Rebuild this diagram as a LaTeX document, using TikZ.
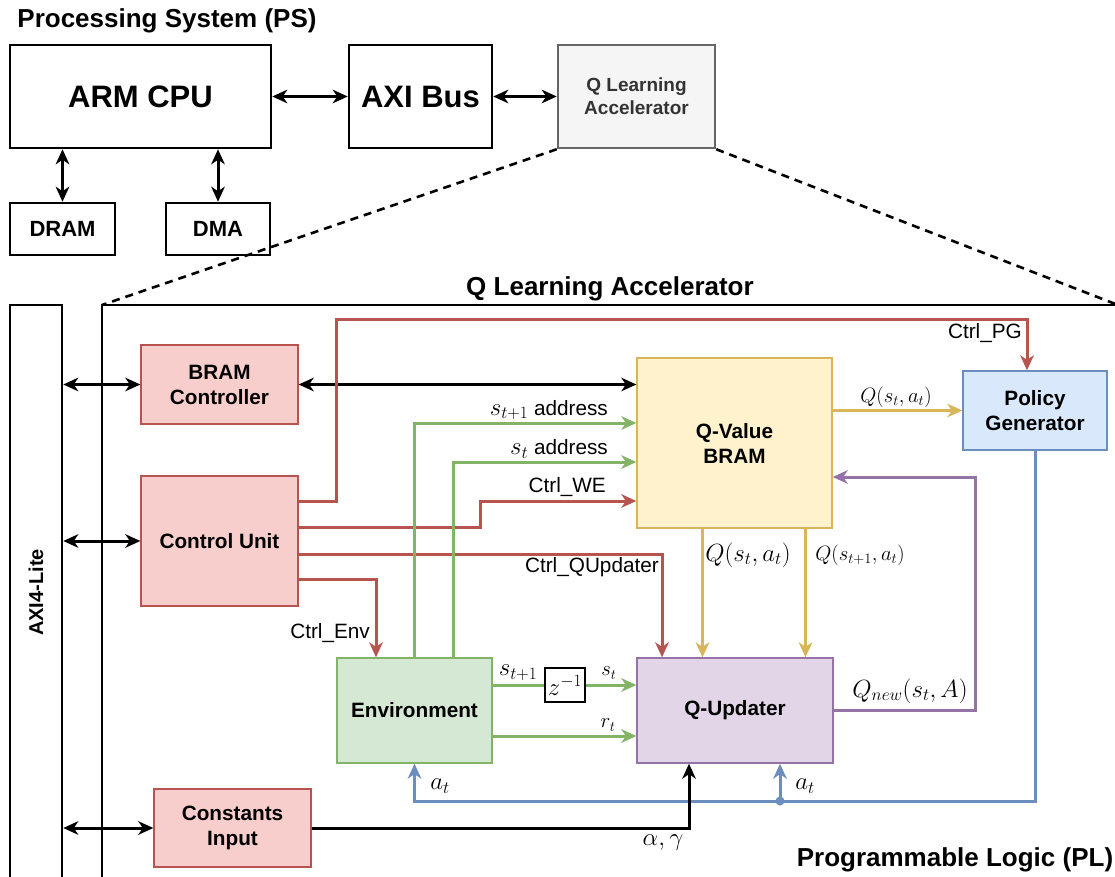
\documentclass[tikz,border=0pt]{standalone}
\usepackage{fontspec}
\setmainfont{Liberation Sans}
\usetikzlibrary{arrows.meta,calc}

\definecolor{redF}{HTML}{F8CECC}\definecolor{redS}{HTML}{B85450}
\definecolor{yelF}{HTML}{FFF2CC}\definecolor{yelS}{HTML}{D6B656}
\definecolor{bluF}{HTML}{DAE8FC}\definecolor{bluS}{HTML}{6C8EBF}
\definecolor{grnF}{HTML}{D5E8D4}\definecolor{grnS}{HTML}{82B366}
\definecolor{purF}{HTML}{E1D5E7}\definecolor{purS}{HTML}{9673A6}
\definecolor{gryF}{HTML}{F5F5F5}\definecolor{gryS}{HTML}{666666}
\definecolor{gryT}{HTML}{333333}

\newcommand{\titlefont}{\fontsize{26}{31}\selectfont\bfseries}
\newcommand{\bigfont}{\fontsize{31}{37}\selectfont\bfseries}
\newcommand{\boxfont}{\fontsize{20.74}{25}\selectfont\bfseries}
\newcommand{\lblfont}{\fontsize{20.74}{25}\selectfont}
\newcommand{\msize}[1]{\fontsize{#1}{#1}\selectfont}

\tikzset{
  tip/.tip={Stealth[length=15pt,width=13.5pt,inset=4.5pt]},
  blk/.style={draw=black, line width=2.5pt, fill=white, inner sep=0pt, align=center},
  cbox/.style 2 args={draw=#2, fill=#1, line width=1.3pt, inner sep=0pt,
    align=center, font=\boxfont},
  conn/.style={line width=3pt, -tip},
  bi/.style={line width=3pt, tip-tip},
  lbl/.style={font=\lblfont, inner sep=0pt},
  mlbl/.style={font=\msize{#1}, inner sep=0pt},
  zoomline/.style={line width=2.6pt, dash pattern=on 8pt off 6pt},
}

\begin{document}
\begin{tikzpicture}[x=1pt,y=-1pt]
\clip (0,0) rectangle (1115,877);

% ---------------- Processing System ----------------
\node[font=\titlefont, inner sep=0pt] (pstitle) at (167,21) {Processing System (PS)};
\node[blk, minimum width=261pt, minimum height=103pt, font=\bigfont] (arm) at (140.5,96.5) {ARM CPU};
\node[blk, minimum width=143pt, minimum height=103pt, font=\bigfont] (axib) at (420.5,96.5) {AXI Bus};
\node[draw=gryS, fill=gryF, line width=2.5pt, inner sep=0pt, align=center,
      minimum width=157pt, minimum height=103pt, text=gryT,
      font=\fontsize{19}{23}\selectfont\bfseries] (qacc) at (636.5,96.5) {Q Learning\\Accelerator};
\node[blk, minimum width=105pt, minimum height=52pt, font=\fontsize{22}{26}\selectfont\bfseries] (dram) at (62.5,229) {DRAM};
\node[blk, minimum width=104pt, minimum height=52pt, font=\fontsize{22}{26}\selectfont\bfseries] (dma) at (218,229) {DMA};

\draw[bi] (arm.east) -- (axib.west);
\draw[bi] (axib.east) -- (qacc.west);
\draw[bi] (dram.north) -- (dram.north |- arm.south);
\draw[bi] (dma.north) -- (dma.north |- arm.south);

% ---------------- Programmable Logic frame ----------------
\coordinate (plnw) at (102,305);
\coordinate (plne) at (1118,305);
\draw[line width=1.3pt] (102,900) -- (plnw) -- (1130,305);
\draw[zoomline] (qacc.south west) -- (plnw);
\draw[zoomline] (qacc.south east) -- (plne);
\node[font=\titlefont, inner sep=0pt] (qtitle) at (610,289) {Q Learning Accelerator};
\node[font=\titlefont, inner sep=0pt] (pltitle) at (955,860) {Programmable Logic (PL)};

\node[blk, minimum width=52pt, minimum height=575pt] (axi) at (36,592.5) {};
\node[rotate=90, font=\fontsize{20}{24}\selectfont\bfseries, inner sep=0pt] (axilbl) at (axi.center) {AXI4-Lite};

% ---------------- Blocks ----------------
\node[cbox={redF}{redS}, minimum width=157pt, minimum height=79pt] (bramc) at (219.5,384.5) {BRAM\\Controller};
\node[cbox={redF}{redS}, minimum width=157pt, minimum height=130pt] (cu) at (219.5,541) {Control Unit};
\node[cbox={redF}{redS}, minimum width=157pt, minimum height=78pt] (consts) at (232.5,828) {Constants\\Input};
\node[cbox={yelF}{yelS}, minimum width=195pt, minimum height=170pt] (qbram) at (734.5,443) {Q-Value\\BRAM};
\node[cbox={bluF}{bluS}, minimum width=144pt, minimum height=79pt] (pg) at (1035,410.5) {Policy\\Generator};
\node[cbox={grnF}{grnS}, minimum width=155pt, minimum height=105pt] (env) at (414.5,710.5) {Environment};
\node[cbox={purF}{purS}, minimum width=196pt, minimum height=105pt] (qupd) at (735,710.5) {Q-Updater};
\node[draw=black, line width=1.3pt, fill=white, inner sep=0pt, minimum width=40pt,
      minimum height=34pt, font=\msize{23}] (zinv) at (565,685) {$z^{-1}$};

% ---------------- AXI4-Lite links ----------------
\draw[bi] (axi.east |- bramc.west) -- (bramc.west);
\draw[bi] (axi.east |- cu.west) -- (cu.west);
\draw[bi] (axi.east |- consts.west) -- (consts.west);
\draw[bi] (bramc.east) -- (bramc.east -| qbram.west);

% ---------------- Control signals ----------------
\draw[conn, redS] ([yshift=40pt]cu.east) -| (336,319) -| ([xshift=-8pt]pg.north);
\node[lbl, anchor=east] (lpg) at (1022,333) {Ctrl\_PG};
\draw[conn, redS] ([yshift=14pt]cu.east) -| (480,501) -- (qbram.west |- 480,501);
\node[lbl, anchor=east] (lwe) at (606,487) {Ctrl\_WE};
\draw[conn, redS] ([yshift=-13pt]cu.east) -| ([xshift=-73pt]qupd.north);
\node[lbl, anchor=east] (lqu) at (659,567) {Ctrl\_QUpdater};
\draw[conn, redS] ([yshift=-38pt]cu.east) -| ([xshift=-38.5pt]env.north);
\node[lbl, anchor=east] (lenv) at (370,633) {Ctrl\_Env};

% ---------------- State addresses ----------------
\draw[conn, grnS] (env.north) |- (qbram.west |- 0,423);
\node[lbl, anchor=east] (lsa1) at (608,410) {{\msize{25}$s_{t+1}$} address};
\draw[conn, grnS] ([xshift=39pt]env.north) |- (qbram.west |- 0,462);
\node[lbl, anchor=east] (lsa0) at (608,449) {{\msize{25}$s_t$} address};

% ---------------- Q values ----------------
\draw[conn, yelS] (qbram.east |- pg.west) -- (pg.west);
\node[mlbl=21.5] (lq0) at (896,397) {$Q(s_t,a_t)$};
\draw[conn, yelS] ([xshift=-32pt]qbram.south) -- ([xshift=-32pt]qbram.south |- qupd.north);
\node[mlbl=23.4] (lq1) at (748,555) {$Q(s_t,a_t)$};
\draw[conn, yelS] ([xshift=71pt]qbram.south) -- ([xshift=71pt]qbram.south |- qupd.north);
\node[mlbl=22] (lq2) at (860,555) {$Q(s_{t+1},a_t)$};
\draw[conn, purS] (qupd.east) -| (975,477) -- (qbram.east |- 975,477);
\node[mlbl=26] (lqn) at (910,691) {$Q_{new}(s_t,A)$};

% ---------------- Environment outputs ----------------
\draw[line width=3pt, grnS] (env.east |- zinv.west) -- (zinv.west);
\draw[conn, grnS] (zinv.east) -- (qupd.west |- zinv.east);
\node[mlbl=25] (lsn) at (518,673) {$s_{t+1}$};
\node[mlbl=22] (lst) at (609,673) {$s_t$};
\draw[conn, grnS] (env.east |- 0,736) -- (qupd.west |- 0,736);
\node[mlbl=22] (lrt) at (608,725) {$r_t$};

% ---------------- Action feedback ----------------
\coordinate (tap) at (780,801);
\draw[conn, bluS] (pg.south) |- (env.south |- tap) -- (env.south);
\draw[conn, bluS] (tap) -- (qupd.south -| tap);
\fill[bluS] (tap) circle[radius=4.5pt];
\node[mlbl=26] (la0) at (440,786) {$a_t$};
\node[mlbl=26] (la1) at (805,786) {$a_t$};

% ---------------- Constants ----------------
\draw[conn, black] (consts.east) -| ([xshift=-46pt]qupd.south);
\node[mlbl=25.6] (lag) at (663,843) {$\alpha,\gamma$};
\end{tikzpicture}
\end{document}
